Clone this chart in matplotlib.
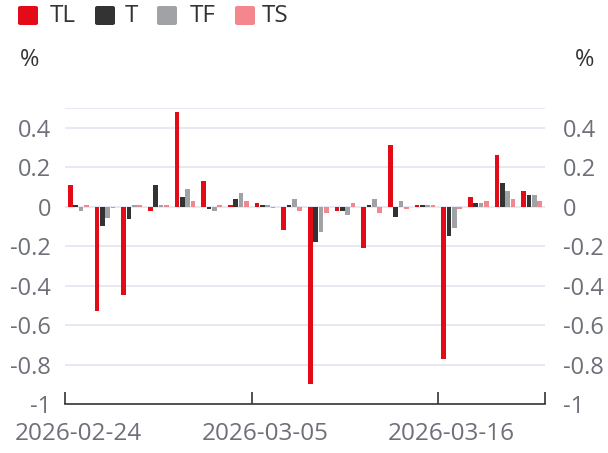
import matplotlib
matplotlib.use("Agg")
import matplotlib.pyplot as plt
import numpy as np
from matplotlib.patches import FancyBboxPatch
from matplotlib.ticker import FuncFormatter

dates = ["2026-02-24", "2026-02-25", "2026-02-26", "2026-02-27", "2026-03-02",
         "2026-03-03", "2026-03-04", "2026-03-05", "2026-03-06", "2026-03-09",
         "2026-03-10", "2026-03-11", "2026-03-12", "2026-03-13", "2026-03-16",
         "2026-03-17", "2026-03-18", "2026-03-19"]
TL = [0.11, -0.53, -0.45, -0.02, 0.48, 0.13, 0.01, 0.02, -0.12, -0.90,
      -0.02, -0.21, 0.31, 0.01, -0.77, 0.05, 0.26, 0.08]
T = [0.01, -0.10, -0.06, 0.11, 0.05, -0.01, 0.04, 0.01, 0.01, -0.18,
     -0.02, 0.01, -0.05, 0.01, -0.15, 0.02, 0.12, 0.06]
TF = [-0.02, -0.055, 0.01, 0.01, 0.09, -0.02, 0.07, 0.01, 0.04, -0.13,
      -0.04, 0.04, 0.03, 0.01, -0.11, 0.02, 0.08, 0.06]
TS = [0.01, -0.005, 0.01, 0.01, 0.03, 0.01, 0.03, -0.005, -0.02, -0.03,
      0.02, -0.03, -0.01, 0.01, -0.01, 0.03, 0.04, 0.03]
series_names = ["TL", "T", "TF", "TS"]
colors = ["#E30B17", "#333333", "#A0A2A5", "#F4868E"]
label_dates = ["2026-02-24", "2026-03-05", "2026-03-16"]

plt.rcParams['font.family'] = ['Open Sans', 'DejaVu Sans']
plt.rcParams['axes.unicode_minus'] = False

W, H = 608, 453
fig = plt.figure(figsize=(W / 100, H / 100), dpi=100)
ax = fig.add_axes([65 / W, 1 - 404 / H, 480 / W, (404 - 108) / H])

x = np.arange(len(dates))
pitch = 0.2
bw = 0.176
for i, (name, vals, c) in enumerate(zip(series_names, [TL, T, TF, TS], colors)):
    ax.bar(x + (i - 1.5) * pitch, vals, width=bw, color=c, zorder=3)

ax.set_xlim(-0.5, len(dates) - 0.5)
ax.set_ylim(-1, 0.5)
yt = [-1, -0.8, -0.6, -0.4, -0.2, 0, 0.2, 0.4, 0.5]
fmt = FuncFormatter(lambda v, p: "" if abs(v - 0.5) < 1e-9 else ("%g" % round(v, 2)))
ax.set_yticks(yt)
ax.yaxis.set_major_formatter(fmt)
for v in yt[1:]:
    ax.axhline(v, color="#DFE3EE", lw=1.1, zorder=1)

for s in ["top", "left", "right"]:
    ax.spines[s].set_visible(False)
ax.spines["bottom"].set_color("#333333")
ax.spines["bottom"].set_linewidth(1.2)

tick_col = "#6E7079"
fs = 17
ax.tick_params(axis="y", length=0, pad=10, labelsize=fs, labelcolor=tick_col)

label_pos = [dates.index(d) for d in label_dates]
ax.set_xticks(label_pos)
ax.set_xticklabels(label_dates)
ax.tick_params(axis="x", which="major", length=0, pad=13, labelsize=17.5, labelcolor=tick_col)
ax.set_xticks([-0.5, 6.5, 13.5, len(dates) - 0.5], minor=True)
ax.tick_params(axis="x", which="minor", direction="in", length=8.5, width=1.2, color="#333333")

ax2 = ax.twinx()
ax2.set_ylim(-1, 0.5)
ax2.set_yticks(yt)
ax2.yaxis.set_major_formatter(fmt)
for s in ["top", "left", "right", "bottom"]:
    ax2.spines[s].set_visible(False)
ax2.tick_params(axis="y", length=0, pad=13, labelsize=fs, labelcolor=tick_col)

fig.text(30 / W, 1 - 60 / H, "%", ha="center", va="center", fontsize=fs, color="#333333")
fig.text(585 / W, 1 - 60 / H, "%", ha="center", va="center", fontsize=fs, color="#333333")

leg_items = [(18, 50), (95, 125), (157, 190), (235, 262)]
for (sx, tx), name, c in zip(leg_items, series_names, colors):
    p = FancyBboxPatch((sx / W, 1 - 25 / H), 20 / W, 19 / H,
                       boxstyle="round,pad=0,rounding_size=0.004",
                       transform=fig.transFigure, facecolor=c, edgecolor="none")
    fig.patches.append(p)
    fig.text(tx / W, 1 - 16 / H, name, ha="left", va="center", fontsize=17.5, color="#333333")

fig.savefig("out.png", dpi=100)
